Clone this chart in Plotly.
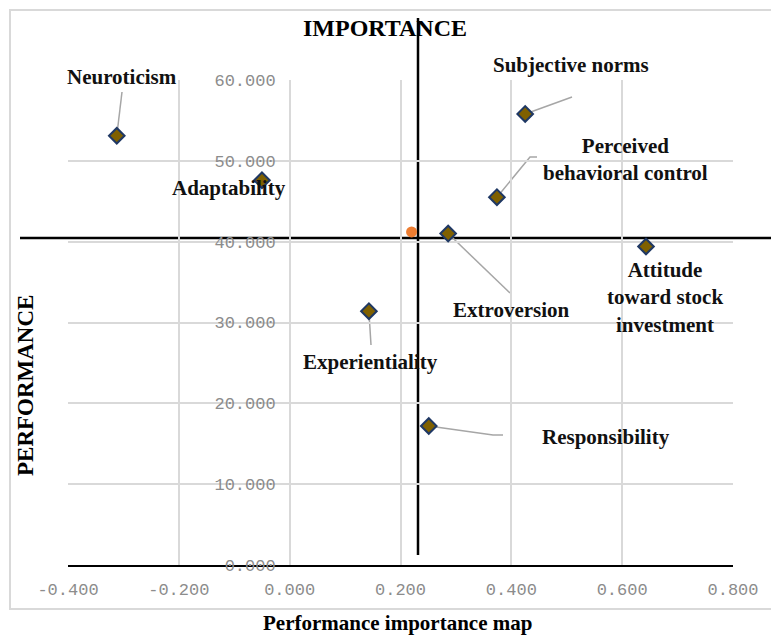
import plotly.graph_objects as go

# ---------------- data ----------------
constructs = ["Neuroticism", "Adaptability", "Subjective norms",
              "Perceived behavioral control", "Extroversion",
              "Attitude toward stock investment", "Experientiality",
              "Responsibility"]
importance = [-0.312, -0.050, 0.425, 0.374, 0.286, 0.643, 0.143, 0.251]
performance = [53.1, 47.6, 55.8, 45.5, 41.0, 39.4, 31.4, 17.2]

mean_importance = [0.220]
mean_performance = [41.2]

x_tickvals = [-0.4, -0.2, 0.0, 0.2, 0.4, 0.6, 0.8]
x_ticktext = ["-0.400", "-0.200", "0.000", "0.200", "0.400", "0.600", "0.800"]
y_tickvals = [0, 10, 20, 30, 40, 50, 60]
y_ticktext = ["0.000", "10.000", "20.000", "30.000", "40.000", "50.000", "60.000"]

# ---------------- layout geometry ----------------
W, H = 771, 637
L, R, T, B = 68, 733, 80, 565
XMIN, XMAX = -0.4, 0.8
YMIN, YMAX = 0, 60


def px(p):
    return (p - L) / (R - L)


def py(p):
    return (B - p) / (B - T)


def dx(v):
    return (v - XMIN) / (XMAX - XMIN)


def dy(v):
    return (v - YMIN) / (YMAX - YMIN)


SERIF = "Liberation Serif, Times New Roman, serif"
MONO = "Liberation Mono, Courier New, monospace"

fig = go.Figure()

fig.add_trace(go.Scatter(
    x=importance, y=performance, mode="markers",
    marker=dict(symbol="diamond", size=12, color="#7F6000",
                line=dict(color="#1F3864", width=2)),
    text=constructs, hoverinfo="text+x+y", showlegend=False, cliponaxis=False))

fig.add_trace(go.Scatter(
    x=mean_importance, y=mean_performance, mode="markers",
    marker=dict(symbol="circle", size=11, color="#ED7D31"),
    showlegend=False, cliponaxis=False))

shapes = []
# outer chart border
shapes.append(dict(type="rect", xref="paper", yref="paper",
                   x0=px(10), x1=px(778), y0=py(609), y1=py(10),
                   line=dict(color="#D9D9D9", width=2), layer="below"))

# crosshair lines
shapes.append(dict(type="line", xref="paper", yref="paper",
                   x0=px(418), x1=px(418), y0=py(555), y1=py(18),
                   line=dict(color="black", width=2.5), layer="between"))
shapes.append(dict(type="line", xref="paper", yref="paper",
                   x0=px(20), x1=px(775), y0=py(238), y1=py(238),
                   line=dict(color="black", width=2.5), layer="between"))

# labels: (text, pixel centre) and leader-line label-side points
labels = {
    "Neuroticism": ("Neuroticism", (122, 77), [(122, 92)]),
    "Adaptability": ("Adaptability", (229, 188), []),
    "Subjective norms": ("Subjective norms", (571, 65), [(572, 97)]),
    "Perceived behavioral control": ("Perceived<br>behavioral control", (625, 159),
                                     [(537, 157), (530, 157)]),
    "Extroversion": ("Extroversion", (511, 310), [(510, 293)]),
    "Attitude toward stock investment": ("Attitude<br>toward stock<br>investment",
                                         (665, 297), []),
    "Experientiality": ("Experientiality", (370, 362), [(371, 345)]),
    "Responsibility": ("Responsibility", (606, 437), [(503, 435), (493, 435)]),
}

annotations = []
for name, xv, yv in zip(constructs, importance, performance):
    txt, (cx, cy), pts = labels[name]
    annotations.append(dict(text="<b>" + txt + "</b>", xref="paper", yref="paper",
                            x=px(cx), y=py(cy), xanchor="center", yanchor="middle",
                            showarrow=False, align="center",
                            font=dict(family=SERIF, size=21, color="#111111")))
    if pts:
        path = "M {} {}".format(px(pts[0][0]), py(pts[0][1]))
        for (a, b) in pts[1:]:
            path += " L {} {}".format(px(a), py(b))
        path += " L {} {}".format(dx(xv), dy(yv))
        shapes.append(dict(type="path", xref="paper", yref="paper", path=path,
                           line=dict(color="#A6A6A6", width=1.5), layer="between"))

annotations.append(dict(text="<b>IMPORTANCE</b>", xref="paper", yref="paper",
                        x=px(385), y=py(28), xanchor="center", yanchor="middle",
                        showarrow=False, font=dict(family=SERIF, size=24, color="black")))
annotations.append(dict(text="<b>PERFORMANCE</b>", xref="paper", yref="paper",
                        x=px(25), y=py(386), xanchor="center", yanchor="middle",
                        textangle=-90, showarrow=False,
                        font=dict(family=SERIF, size=23, color="black")))
annotations.append(dict(text="<b>Performance importance map</b>", xref="paper", yref="paper",
                        x=px(397), y=py(623), xanchor="center", yanchor="middle",
                        showarrow=False, font=dict(family=SERIF, size=21, color="black")))

fig.update_layout(
    width=W, height=H,
    margin=dict(l=L, r=W - R, t=T, b=H - B, pad=0),
    paper_bgcolor="white", plot_bgcolor="white",
    showlegend=False,
    shapes=shapes, annotations=annotations,
    xaxis=dict(range=[XMIN, XMAX], tickvals=x_tickvals, ticktext=x_ticktext,
               showgrid=True, gridcolor="#D9D9D9", gridwidth=1.5,
               zeroline=False, showline=True, linecolor="black", linewidth=2,
               ticks="", ticklabelstandoff=8,
               tickfont=dict(family=MONO, size=17, color="#8C8C8C")),
    yaxis=dict(range=[YMIN, YMAX], tickvals=y_tickvals, ticktext=y_ticktext,
               anchor="free", position=dx(0.0), side="left",
               showgrid=True, gridcolor="#D9D9D9", gridwidth=1.5,
               zeroline=False, showline=False, ticks="", ticklabelstandoff=14,
               tickfont=dict(family=MONO, size=17, color="#8C8C8C")),
)

fig.write_html("out.html", config={"displayModeBar": False},
               post_script="document.body.style.margin='0';document.body.style.overflow='hidden';")
